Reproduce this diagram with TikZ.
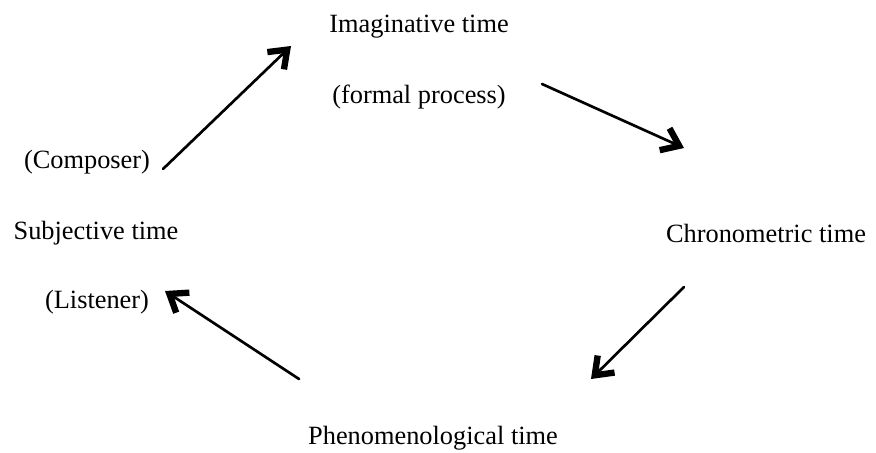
\documentclass[tikz,border=0pt]{standalone}
\usepackage{fontspec}
\setmainfont{Liberation Serif}
\usetikzlibrary{arrows.meta}

\begin{document}
\begin{tikzpicture}[x=0.03cm, y=-0.03cm,
    lbl/.style={inner sep=0pt, font=\fontsize{22.5}{27}\selectfont},
    a/.style={-{Straight Barb[length=4.8mm, width=7.2mm, line width=1.9mm]}, line width=0.8mm, line cap=round}
]
    \useasboundingbox (0,0) rectangle (876,452);
    % labels
    \node[lbl] (imag) at (419,27) {Imaginative time};
    \node[lbl] (formal) at (419,97) {(formal process)};
    \node[lbl] (comp) at (87,162) {(Composer)};
    \node[lbl] (subj) at (96,233) {Subjective time};
    \node[lbl] (list) at (97,302) {(Listener)};
    \node[lbl] (chron) at (766,233) {Chronometric time};
    \node[lbl] (phen) at (433,438) {Phenomenological time};
    % arrow ends
    \coordinate (s1) at (163,169);
    \coordinate (e1) at (291,46);
    \coordinate (s2) at (542,84);
    \coordinate (e2) at (684,148);
    \coordinate (s3) at (684,287);
    \coordinate (e3) at (591,379);
    \coordinate (s4) at (299,379);
    \coordinate (e4) at (165,291);
    \draw[a] (s1) -- (e1);
    \draw[a] (s2) -- (e2);
    \draw[a] (s3) -- (e3);
    \draw[a] (s4) -- (e4);
\end{tikzpicture}
\end{document}
